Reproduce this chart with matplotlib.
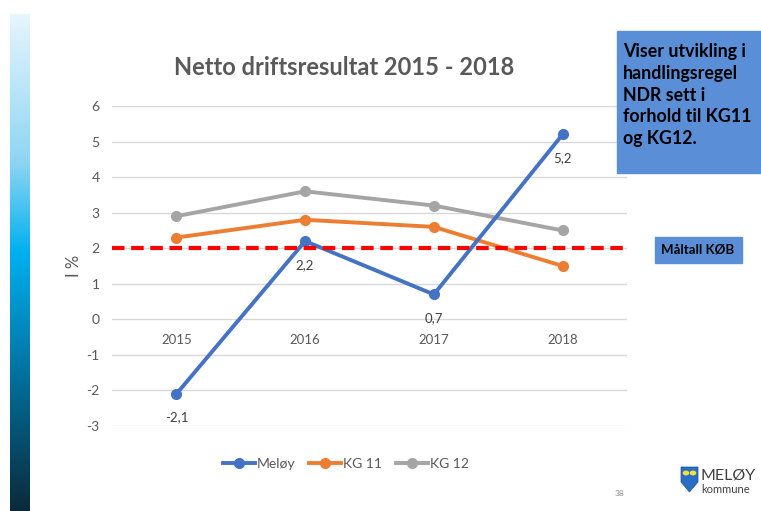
import matplotlib.pyplot as plt
import numpy as np
from matplotlib.colors import LinearSegmentedColormap
from matplotlib.patches import Polygon, Circle, Rectangle

# data
years = ['2015', '2016', '2017', '2018']
meloy = [-2.1, 2.2, 0.7, 5.2]
kg11 = [2.3, 2.8, 2.6, 1.5]
kg12 = [2.9, 3.6, 3.2, 2.5]
maltall = 2
yticks = [-3, -2, -1, 0, 1, 2, 3, 4, 5, 6]

plt.rcParams['font.family'] = ['Lato', 'DejaVu Sans']
grey = '#595959'

fig = plt.figure(figsize=(7.61, 5.11), dpi=100)

# blaa gradient-stripe til venstre
bar = fig.add_axes([10 / 761, 0, 20 / 761, 497 / 511])
cmap = LinearSegmentedColormap.from_list('stripe', [
    (0.0, '#e6f6fd'), (0.3, '#8dd5f2'), (0.48, '#00b0f0'),
    (0.7, '#0078a8'), (1.0, '#0b2a3a')])
bar.imshow(np.linspace(0, 1, 256).reshape(-1, 1), aspect='auto', cmap=cmap)
bar.axis('off')

# selve diagrammet
ax = fig.add_axes([112 / 761, 1 - 426 / 511, 515 / 761, 320 / 511])
x = np.arange(len(years))
ax.plot(x, kg12, color='#a5a5a5', lw=2.8, marker='o', ms=7, label='KG 12', zorder=3)
ax.plot(x, kg11, color='#ed7d31', lw=2.8, marker='o', ms=7, label='KG 11', zorder=3)
ax.plot(x, meloy, color='#4472c4', lw=2.8, marker='o', ms=7, label='Meløy', zorder=4)
ax.axhline(maltall, color='#ff0000', lw=3, ls=(0, (3, 1.6)), zorder=5)

ax.set_xlim(-0.5, 3.5)
ax.set_ylim(-3, 6)
ax.set_yticks(yticks)
ax.set_yticklabels([str(v) for v in yticks], color=grey, fontsize=10)
ax.tick_params(axis='y', length=0, pad=9)
ax.set_xticks([])
ax.grid(axis='y', color='#d9d9d9', lw=1)
for s in ax.spines.values():
    s.set_visible(False)
ax.set_ylabel('I %', color=grey, fontsize=12, labelpad=3)

# aarstall langs 0-linja
for i, aar in enumerate(years):
    ax.annotate(aar, (i, 0), xytext=(0, -15), textcoords='offset points',
                ha='center', va='center', color=grey, fontsize=9.5)

# dataetiketter for Meløy
for i, v in enumerate(meloy):
    ax.annotate(f'{v:.1f}'.replace('.', ','), (i, v), xytext=(0, -17),
                textcoords='offset points', ha='center', va='center',
                color='#404040', fontsize=9.5)

fig.text(344 / 761, 1 - 67 / 511, 'Netto driftsresultat 2015 - 2018',
         ha='center', va='center', fontsize=17, fontweight='bold', color=grey)

h, l = ax.get_legend_handles_labels()
fig.legend(h[::-1], l[::-1], loc='center', bbox_to_anchor=(346 / 761, 1 - 464 / 511),
           ncol=3, frameon=False, fontsize=10, labelcolor=grey, handlelength=2.3,
           columnspacing=1.0, handletextpad=0.15)

# tekstbokser
blue = '#5a8ed6'
fig.patches.append(Rectangle((617 / 761, 1 - 173 / 511), 144 / 761, 142 / 511,
                             transform=fig.transFigure, color=blue, zorder=0))
fig.text(623 / 761, 1 - 95 / 511,
         'Viser utvikling i\nhandlingsregel\nNDR sett i\nforhold til KG11\nog KG12.',
         ha='left', va='center', fontsize=12.8, fontweight='bold', color='black',
         linespacing=1.33)
fig.patches.append(Rectangle((655 / 761, 1 - 263 / 511), 87 / 761, 26 / 511,
                             transform=fig.transFigure, color=blue, zorder=0))
fig.text(698 / 761, 1 - 250 / 511, 'Måltall KØB', ha='center', va='center',
         fontsize=9.5, fontweight='bold', color='black')

# logo
fig.patches.append(Polygon([[681 / 761, 1 - 467 / 511], [698 / 761, 1 - 467 / 511],
                            [698 / 761, 1 - 482 / 511], [689.5 / 761, 1 - 492 / 511],
                            [681 / 761, 1 - 482 / 511]], closed=True,
                           transform=fig.transFigure, facecolor='#2b6cc4',
                           edgecolor='#1d4f99', lw=0.5))
for cx in (686, 693):
    fig.patches.append(Circle((cx / 761, 1 - 473 / 511), 2.6 / 761,
                              transform=fig.transFigure, color='#f2e13a'))
fig.text(700 / 761, 1 - 475 / 511, 'MELØY', fontsize=11.5, color='#404040',
         ha='left', va='center')
fig.text(701 / 761, 1 - 489 / 511, 'kommune', fontsize=8, color='#404040',
         ha='left', va='center')
fig.text(620 / 761, 1 - 493 / 511, '38', fontsize=6, color='#8c8c8c',
         ha='center', va='center')

fig.savefig('out.png', dpi=100)
